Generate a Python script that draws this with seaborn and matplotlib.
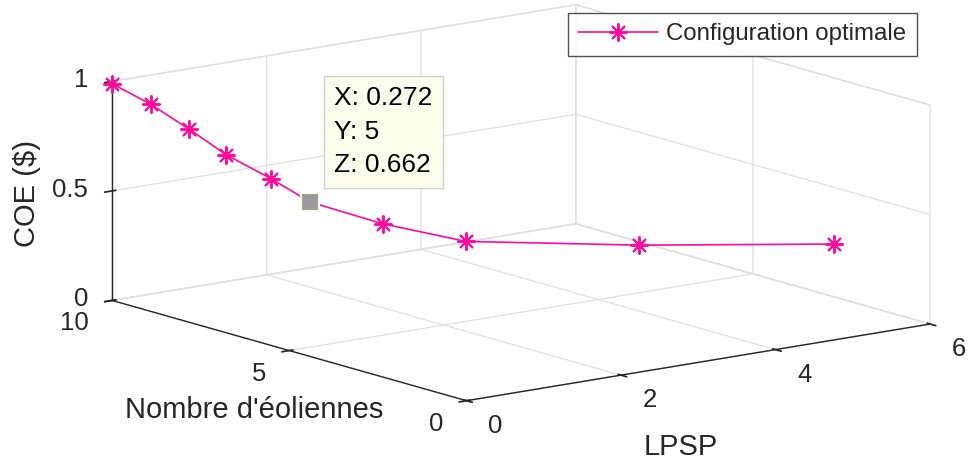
import numpy as np
import matplotlib
matplotlib.use("Agg")
import matplotlib.pyplot as plt
import seaborn as sns
from mpl_toolkits.mplot3d import proj3d

# Optimal configuration for each number of wind turbines
nb_eoliennes = [10, 9, 8, 7, 6, 5, 4, 3, 2, 1]
lpsp = [0.0, 0.042, 0.083, 0.10, 0.227, 0.272, 0.75, 1.37, 3.15, 5.22]
coe = [0.99, 0.939, 0.868, 0.797, 0.725, 0.662, 0.581, 0.51, 0.435, 0.365]

x_ticks = [0, 2, 4, 6]
y_ticks = [0, 5, 10]
z_ticks = [0, 0.5, 1]
tip_index = 5

sns.set_theme(style="white")
plt.rcParams["font.family"] = ["Liberation Sans", "DejaVu Sans"]
plt.rcParams["grid.color"] = "#dfdfdf"
plt.rcParams["grid.linewidth"] = 0.9
plt.rcParams["axes.edgecolor"] = "#262626"
plt.rcParams["axes.linewidth"] = 1.0

TEXT = "#262626"
W, H = 968, 463
fig = plt.figure(figsize=(W / 100, H / 100), dpi=100)
fig.patch.set_facecolor("white")
ax = fig.add_axes([0, 0, 1, 1], projection="3d", proj_type="ortho")
ax.view_init(elev=12.49, azim=-127.4)
ax.set_box_aspect((1, 1, 0.3844))

ax.set_xlim(0, 6)
ax.set_ylim(0, 10)
ax.set_zlim(0, 1)
ax.set_xticks(x_ticks)
ax.set_yticks(y_ticks)
ax.set_zticks(z_ticks)
ax.set_xticklabels([])
ax.set_yticklabels([])
ax.set_zticklabels([])

for axis in (ax.xaxis, ax.yaxis, ax.zaxis):
    axis.set_pane_color((1, 1, 1, 1))
    axis.pane.set_edgecolor("#dfdfdf")
    axis._axinfo["grid"]["color"] = "#dfdfdf"
    axis._axinfo["grid"]["linewidth"] = 0.9
    axis._axinfo["axisline"]["color"] = TEXT
    axis._axinfo["tick"]["color"] = TEXT
ax.grid(True)
ax.tick_params(colors=TEXT)

line_color = "#ff0a9a"
ax.plot(lpsp, nb_eoliennes, coe, color=line_color, lw=1.2,
        marker=(8, 2, 0), ms=13, mew=1.4, label="Configuration optimale")
ax.plot([lpsp[tip_index]], [nb_eoliennes[tip_index]], [coe[tip_index]],
        ls="none", marker="s", ms=13, mfc="#9a9a9a", mec="#fbfbe6", mew=1.5,
        zorder=10)


def to_px(x, y, z):
    xs, ys, _ = proj3d.proj_transform(x, y, z, ax.get_proj())
    return np.array(ax.transData.transform((xs, ys)))


# Size and place the axes so the plot box spans the canvas
target_origin = np.array([466.5, H - 400.7])
target_span = np.array([930.0, H - 324.0]) - np.array([112.0, H - 300.5])
for _ in range(3):
    fig.canvas.draw()
    o = to_px(0, 0, 0)
    span = to_px(6, 0, 0) - to_px(0, 10, 0)
    r = np.linalg.norm(target_span) / np.linalg.norm(span)
    bb = ax.get_position().transformed(fig.transFigure)
    c = np.array([(bb.x0 + bb.x1) / 2, (bb.y0 + bb.y1) / 2])
    side = bb.width * r
    c_new = target_origin - r * (o - c)
    ax.set_position([(c_new[0] - side / 2) / W, (c_new[1] - side / 2) / H,
                     side / W, side / H])
fig.canvas.draw()


def place(text, xyz, dx, dy, **kw):
    ax.annotate(text, xy=to_px(*xyz), xycoords="figure pixels",
                xytext=(dx, dy), textcoords="offset pixels",
                annotation_clip=False, **kw)


tick_kw = dict(fontsize=18.5, color=TEXT)
for v in x_ticks:
    place(f"{v:g}", (v, 0, 0), 22, -25, ha="left", va="center", **tick_kw)
for v in y_ticks:
    place(f"{v:g}", (0, v, 0), -23, -23, ha="right", va="center", **tick_kw)
for v in z_ticks:
    place(f"{v:g}", (0, 10, v), -24, 1, ha="right", va="center", **tick_kw)

label_kw = dict(fontsize=21, color=TEXT, ha="center", va="center")
place("LPSP", (3, 0, 0), -18, -85, **label_kw)
place("Nombre d'éoliennes", (0, 5, 0), -35, -59, **label_kw)
place("COE ($)", (0, 10, 0.5), -85, -3, rotation=90, **label_kw)

place(f"X: {lpsp[tip_index]}\nY: {nb_eoliennes[tip_index]}\nZ: {coe[tip_index]}",
      (lpsp[tip_index], nb_eoliennes[tip_index], coe[tip_index]), 24, 25,
      ha="left", va="bottom", fontsize=19, color="black", linespacing=1.5,
      bbox=dict(boxstyle="square,pad=0.4", fc="#fdfdee", ec="#cfcfcf", lw=1.0))

leg = fig.legend(loc="upper right", bbox_to_anchor=(917 / W, 1 - 12.5 / H),
                 fontsize=17.3, frameon=True, fancybox=False, borderaxespad=0,
                 handlelength=3.3, borderpad=0.45, handletextpad=0.35)
leg.get_frame().set_edgecolor(TEXT)
leg.get_frame().set_linewidth(1.0)

fig.savefig("out.png", dpi=100, facecolor="white")
